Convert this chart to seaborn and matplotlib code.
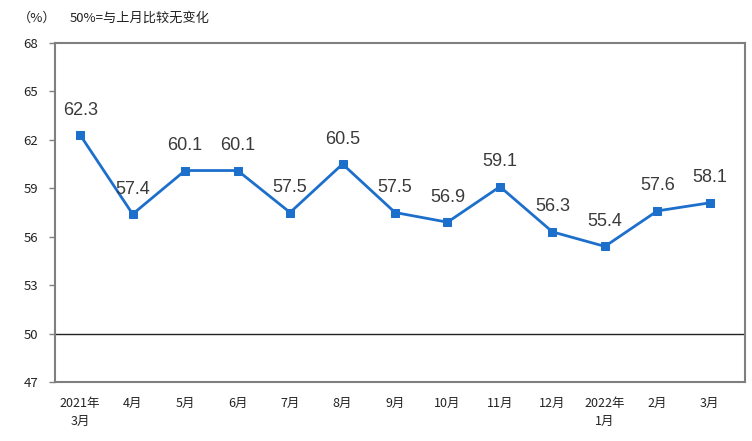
import matplotlib
matplotlib.use("Agg")
import matplotlib.pyplot as plt
import seaborn as sns
import pandas as pd

categories = ["2021年\n3月", "4月", "5月", "6月", "7月", "8月", "9月", "10月", "11月", "12月", "2022年\n1月", "2月", "3月"]
values = [62.3, 57.4, 60.1, 60.1, 57.5, 60.5, 57.5, 56.9, 59.1, 56.3, 55.4, 57.6, 58.1]
yticks = [47, 50, 53, 56, 59, 62, 65, 68]

sns.set_theme(style="white")
plt.rcParams['font.family'] = ['Noto Sans CJK SC', 'DejaVu Sans']

df = pd.DataFrame({"idx": range(len(values)), "value": values})

fig = plt.figure(figsize=(7.52, 4.41), dpi=100)
ax = fig.add_axes([55/752, 1-382/441, 690/752, 339/441])

blue = "#1D6FCC"
sns.lineplot(data=df, x="idx", y="value", ax=ax, color=blue, linewidth=2.0,
             marker="s", markersize=6, markeredgecolor=blue, markerfacecolor=blue)

for i, v in enumerate(values):
    ax.annotate(f"{v:.1f}", (i, v), xytext=(0, 18), textcoords="offset points",
                ha="center", va="center", fontsize=13, color="#3a3a3a",
                family=["Liberation Sans", "DejaVu Sans"])

ax.axhline(50, color="#222222", linewidth=1.0, zorder=1)

ax.set_ylim(47, 68)
ax.set_xlim(-0.48, 12.67)
ax.set_yticks(yticks)
ax.set_yticklabels([str(t) for t in yticks], fontsize=9.5, color="#222222")
ax.set_xticks(range(len(categories)))
ax.set_xticklabels(categories, fontsize=9, color="#222222", linespacing=1.45)
ax.set_xlabel("")
ax.set_ylabel("")

ax.tick_params(axis="y", which="both", left=True, length=4, width=1, color="#808080", pad=8)
ax.tick_params(axis="x", bottom=False, pad=5)
for s in ax.spines.values():
    s.set_color("#7f7f7f")
    s.set_linewidth(1.5)

fig.text(18/752, 1-18/441, "（%）", fontsize=9.5, color="#222222", va="center", ha="left")
fig.text(70/752, 1-18/441, "50%=与上月比较无变化", fontsize=9.5, color="#222222", va="center", ha="left")

fig.savefig("out.png", dpi=100)
